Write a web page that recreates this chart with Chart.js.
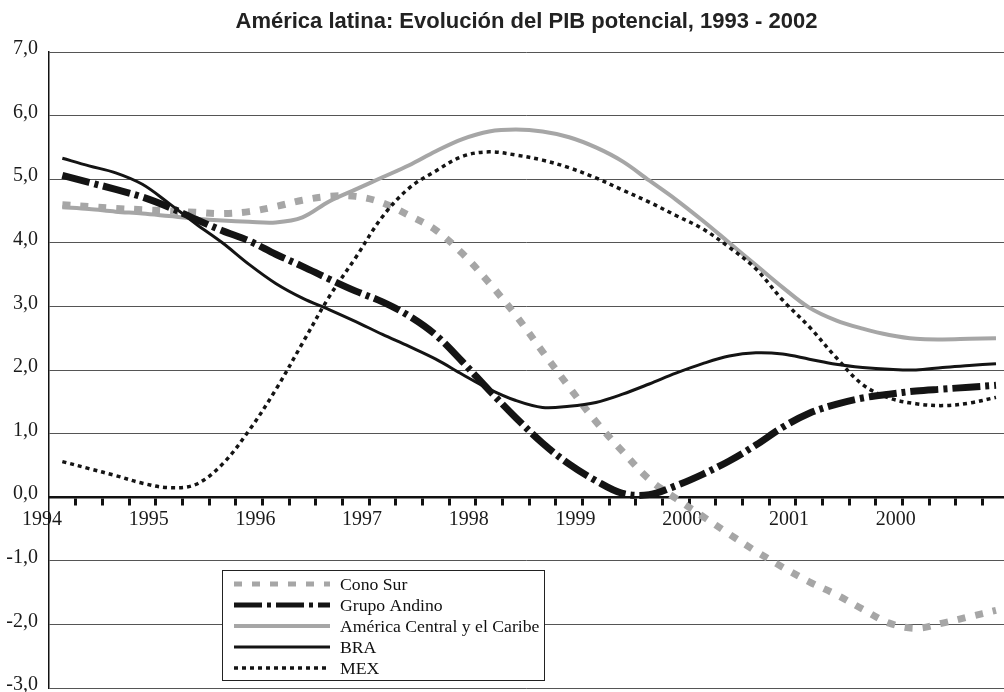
<!DOCTYPE html>
<html>
<head>
<meta charset="utf-8">
<script src="https://cdn.jsdelivr.net/npm/chart.js@4/dist/chart.umd.min.js"></script>
<style>
  body { margin: 0; background: #fff; }
  canvas { display: block; }
</style>
</head>
<body>
<canvas id="pibChart" width="1004" height="692"></canvas>
<script>
// trimestres 1994-2002, 36 puntos
var etiquetasAnio = ['1994', '1995', '1996', '1997', '1998', '1999', '2000', '2001', '2000'];
var nombres = ['Cono Sur', 'Grupo Andino', 'América Central y el Caribe', 'BRA', 'MEX'];

var conoSur = [4.60, 4.57, 4.54, 4.52, 4.50, 4.48, 4.46, 4.49, 4.57, 4.67, 4.73, 4.73,
               4.63, 4.43, 4.20, 3.83, 3.37, 2.86, 2.29, 1.73, 1.19, 0.72, 0.28, -0.02,
               -0.30, -0.58, -0.85, -1.10, -1.33, -1.53, -1.76, -1.98, -2.06, -1.98, -1.88, -1.78];
var grupoAndino = [5.06, 4.95, 4.84, 4.72, 4.56, 4.37, 4.19, 4.03, 3.82, 3.63, 3.43, 3.24,
                   3.07, 2.85, 2.55, 2.13, 1.68, 1.25, 0.85, 0.52, 0.26, 0.06, 0.04, 0.18,
                   0.36, 0.57, 0.82, 1.10, 1.32, 1.46, 1.56, 1.62, 1.67, 1.70, 1.73, 1.76];
var americaCentral = [4.56, 4.53, 4.49, 4.46, 4.42, 4.38, 4.35, 4.33, 4.32, 4.40, 4.65, 4.84,
                      5.03, 5.22, 5.44, 5.63, 5.75, 5.78, 5.75, 5.66, 5.50, 5.28, 4.98, 4.68,
                      4.35, 4.00, 3.65, 3.30, 2.98, 2.78, 2.65, 2.55, 2.49, 2.48, 2.49, 2.50];
var bra = [5.33, 5.21, 5.10, 4.92, 4.62, 4.30, 4.00, 3.66, 3.36, 3.13, 2.95, 2.76,
           2.56, 2.37, 2.17, 1.93, 1.70, 1.52, 1.41, 1.43, 1.49, 1.62, 1.78, 1.95,
           2.10, 2.22, 2.27, 2.25, 2.17, 2.09, 2.04, 2.01, 2.00, 2.04, 2.07, 2.10];
var mex = [0.56, 0.45, 0.34, 0.22, 0.15, 0.20, 0.52, 1.05, 1.69, 2.42, 3.15, 3.77,
           4.41, 4.86, 5.13, 5.36, 5.43, 5.38, 5.30, 5.18, 5.02, 4.83, 4.64, 4.43,
           4.22, 3.93, 3.59, 3.10, 2.68, 2.20, 1.77, 1.56, 1.47, 1.44, 1.48, 1.57];

var serif = "'Liberation Serif', 'Times New Roman', serif";

function puntos(arr) {
    return arr.map(function (v, i) { return { x: i, y: v }; });
}

// marcas entre trimestres
var marcas = [];
for (var k = 0; k < 36; k++) marcas.push(k - 0.5);

var leyendaCaja = {
    id: 'leyendaCaja',
    afterDraw: function (chart, args, opts) {
        var ctx = chart.ctx;
        ctx.save();
        ctx.fillStyle = '#fff';
        ctx.fillRect(opts.x, opts.y, opts.w, opts.h);
        ctx.strokeStyle = '#222';
        ctx.lineWidth = 1;
        ctx.strokeRect(opts.x + 0.5, opts.y + 0.5, opts.w, opts.h);
        chart.data.datasets.forEach(function (ds, i) {
            var y = opts.y + 14 + i * 21;
            ctx.beginPath();
            ctx.strokeStyle = ds.borderColor;
            ctx.lineWidth = Math.min(ds.borderWidth, 5);
            ctx.setLineDash(ds.borderDash || []);
            ctx.moveTo(opts.x + 12, y);
            ctx.lineTo(opts.x + 108, y);
            ctx.stroke();
            ctx.setLineDash([]);
            ctx.fillStyle = '#111';
            ctx.font = '17.7px ' + serif;
            ctx.textBaseline = 'middle';
            ctx.fillText(ds.label, opts.x + 118, y + 1);
        });
        ctx.restore();
    }
};

const lienzo = document.getElementById('pibChart');

let grafico = new Chart(lienzo, {
    type: 'line',
    data: {
        datasets: [
            {
                label: nombres[0],
                data: puntos(conoSur),
                borderColor: '#a6a6a6',
                borderWidth: 7,
                borderDash: [8, 10],
                order: 4
            },
            {
                label: nombres[1],
                data: puntos(grupoAndino),
                borderColor: '#141414',
                borderWidth: 7,
                borderDash: [28, 5, 4, 5],
                order: 2
            },
            {
                label: nombres[2],
                data: puntos(americaCentral),
                borderColor: '#a6a6a6',
                borderWidth: 4,
                order: 5
            },
            {
                label: nombres[3],
                data: puntos(bra),
                borderColor: '#141414',
                borderWidth: 3,
                order: 3
            },
            {
                label: nombres[4],
                data: puntos(mex),
                borderColor: '#141414',
                borderWidth: 3.5,
                borderDash: [4, 4],
                order: 1
            }
        ]
    },
    options: {
        responsive: false,
        animation: false,
        layout: { padding: { left: 0, right: 0, top: 0, bottom: 4 } },
        elements: {
            point: { radius: 0 },
            line: { tension: 0.35, borderCapStyle: 'butt', fill: false }
        },
        scales: {
            x: {
                type: 'linear',
                min: -0.5,
                max: 35.3,
                position: { y: 0 },
                afterBuildTicks: function (s) {
                    s.ticks = marcas.map(function (v) { return { value: v }; });
                },
                afterFit: function (s) { s.paddingLeft = 0; s.paddingRight = 0; },
                ticks: {
                    autoSkip: false,
                    maxRotation: 0,
                    padding: 4,
                    labelOffset: -7,
                    color: '#1a1a1a',
                    font: { family: serif, size: 20 },
                    callback: function (v, i) {
                        return i % 4 === 0 ? etiquetasAnio[i / 4] : '';
                    }
                },
                grid: {
                    drawOnChartArea: false,
                    drawTicks: true,
                    tickLength: 7,
                    tickWidth: 3,
                    tickColor: function (c) { return c.index === 0 ? 'rgba(0,0,0,0)' : '#111'; }
                },
                border: { display: true, color: '#111', width: 2.5 }
            },
            y: {
                min: -3,
                max: 7,
                afterFit: function (s) { s.width = 49; s.paddingTop = 0; s.paddingBottom = 0; },
                ticks: {
                    stepSize: 1,
                    padding: 11,
                    labelOffset: -3,
                    color: '#1a1a1a',
                    font: { family: serif, size: 20 },
                    callback: function (v) { return v.toFixed(1).replace('.', ','); }
                },
                grid: { color: '#555', lineWidth: 1, drawTicks: false },
                border: { display: true, color: '#111', width: 1.5 }
            }
        },
        plugins: {
            legend: { display: false },
            tooltip: { enabled: false },
            title: {
                display: true,
                fullSize: false,
                text: 'América latina: Evolución del PIB potencial, 1993 - 2002',
                color: '#222',
                font: { family: "'Liberation Sans', Arial, sans-serif", size: 22, weight: 'bold' },
                padding: { top: 9, bottom: 16.6 }
            },
            leyendaCaja: { x: 222, y: 570, w: 322, h: 110 }
        }
    },
    plugins: [leyendaCaja]
});
</script>
</body>
</html>
